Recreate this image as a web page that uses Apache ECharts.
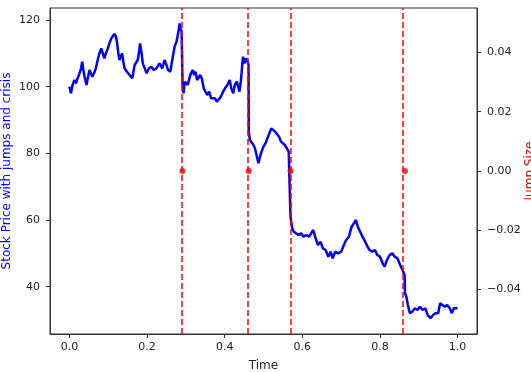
<!DOCTYPE html>
<html>
<head>
<meta charset="utf-8">
<script src="https://cdn.jsdelivr.net/npm/echarts@6.0.0/dist/echarts.min.js"></script>
<style>
html,body{margin:0;padding:0;background:#fff;}
#chart{width:531px;height:372px;}
</style>
</head>
<body>
<div id="chart"></div>
<script>
// Price path, split at each jump: [time, price]
const pathBeforeJump1 = [[0.000,100],[0.001,99.5],[0.004,98],[0.008,100.5],[0.013,102],[0.017,101],[0.021,102.5],[0.026,104],[0.030,105.5],[0.033,107.5],[0.036,105],[0.039,103],[0.044,100.5],[0.048,103],[0.052,105],[0.055,104],[0.059,103],[0.065,104.5],[0.068,105.5],[0.071,107],[0.076,109.5],[0.082,111.5],[0.086,110],[0.090,108.5],[0.094,110],[0.099,111.5],[0.103,113],[0.108,114.5],[0.112,115],[0.116,115.8],[0.120,115],[0.123,113],[0.126,110],[0.129,108],[0.132,109],[0.136,110],[0.139,107.5],[0.142,105.5],[0.148,104.5],[0.155,103.5],[0.162,102.5],[0.165,104.5],[0.168,106.5],[0.172,107],[0.176,108],[0.179,110],[0.182,113],[0.186,110],[0.189,107],[0.194,105.5],[0.199,104],[0.205,105.5],[0.211,106],[0.217,105],[0.224,105.5],[0.228,106],[0.232,107],[0.239,105.5],[0.245,108],[0.250,106.5],[0.254,105],[0.260,104.5],[0.265,108],[0.271,112],[0.276,113.5],[0.280,116],[0.284,119],[0.286,117.5],[0.289,116.5],[0.291,116]];
const pathBeforeJump2 = [[0.2915,100.5],[0.294,98],[0.297,101.5],[0.301,102],[0.305,100.5],[0.309,102.5],[0.313,104],[0.318,105],[0.321,103.5],[0.325,104.5],[0.329,102],[0.333,101.5],[0.337,103.5],[0.341,102.5],[0.346,99.5],[0.351,99.5],[0.355,97.5],[0.360,98.5],[0.365,96.5],[0.370,97],[0.375,96.5],[0.380,95.5],[0.385,96],[0.390,97],[0.396,98.5],[0.401,99.5],[0.407,100.5],[0.413,102],[0.417,99.5],[0.422,98],[0.426,100.5],[0.431,101.5],[0.435,100],[0.438,98.5],[0.442,102],[0.447,109],[0.451,107],[0.455,108.5],[0.459,107.5],[0.4615,106.5]];
const pathBeforeJump3 = [[0.462,86.5],[0.465,84],[0.470,83.5],[0.474,82.5],[0.478,81.5],[0.483,79],[0.487,77],[0.491,79],[0.495,80.5],[0.500,82],[0.505,83],[0.510,84.5],[0.515,86],[0.520,87.5],[0.525,88],[0.530,86.5],[0.535,87],[0.540,85],[0.545,83.5],[0.550,84],[0.555,82.5],[0.560,83],[0.565,80.5],[0.569,80]];
const pathBeforeJump4 = [[0.5695,61],[0.574,57.5],[0.578,56.5],[0.583,56],[0.590,55.5],[0.597,56],[0.603,55],[0.610,55.5],[0.617,55],[0.623,56],[0.628,57],[0.633,55],[0.640,52.5],[0.647,53.5],[0.653,51.5],[0.660,51],[0.667,49],[0.673,50.5],[0.678,48.5],[0.685,50.5],[0.692,50],[0.700,50.5],[0.707,52.5],[0.713,54],[0.720,55],[0.727,58],[0.733,59],[0.738,60],[0.743,58],[0.748,57.5],[0.755,55],[0.762,53.5],[0.768,52],[0.773,51],[0.780,50.5],[0.787,51],[0.793,49.5],[0.800,49],[0.807,47],[0.812,46],[0.818,48],[0.825,49.5],[0.832,50],[0.838,49],[0.845,48.5],[0.852,46.5],[0.858,45],[0.8635,43.5]];
const pathAfterLastJump = [[0.8645,38],[0.868,37],[0.872,34.5],[0.877,32],[0.883,32.5],[0.890,33.5],[0.897,33],[0.903,34],[0.910,33],[0.917,33.5],[0.923,31.5],[0.930,30.5],[0.937,31.5],[0.943,32],[0.950,32],[0.955,35],[0.960,34.5],[0.967,34],[0.973,34.5],[0.980,33.5],[0.985,32],[0.990,33.5],[0.995,33],[1.000,33.5]];

const jumpTimes = [0.291, 0.462, 0.5695, 0.8645];
const jumpSizes = [0, 0, 0, 0];

const timeTicks = [0, 0.2, 0.4, 0.6, 0.8, 1.0];
const priceTicks = [40, 60, 80, 100, 120];
const jumpTicks = [-0.04, -0.02, 0, 0.02, 0.04];

const pricePath = [].concat(pathBeforeJump1, pathBeforeJump2, pathBeforeJump3, pathBeforeJump4, pathAfterLastJump);
const jumpPoints = jumpTimes.map((t, i) => [t, jumpSizes[i]]);

const chart = echarts.init(document.getElementById('chart'), null, {renderer: 'canvas'});
const tickColor = '#222';
const font = 'DejaVu Sans';
chart.setOption({
  animation: false,
  grid: {left: 50, right: 54, top: 8, bottom: 38, show: true, borderColor: '#333', borderWidth: 1, backgroundColor: 'transparent', containLabel: false, outerBoundsMode: 'none'},
  xAxis: {
    type: 'value', min: -0.05, max: 1.05,
    name: 'Time', nameLocation: 'middle', nameGap: 26,
    nameTextStyle: {fontFamily: font, fontSize: 12, color: tickColor},
    axisLine: {show: true, onZero: false, lineStyle: {color: '#333', width: 1}},
    axisTick: {show: true, length: 4, customValues: timeTicks, lineStyle: {color: '#333'}},
    axisLabel: {customValues: timeTicks, formatter: v => v.toFixed(1), fontFamily: font, fontSize: 11, color: tickColor, margin: 8},
    splitLine: {show: false}
  },
  yAxis: [{
    type: 'value', min: 25.8, max: 123.6, position: 'left',
    name: 'Stock Price with jumps and crisis', nameLocation: 'middle', nameGap: 37, nameRotate: 90,
    nameMoveOverlap: false,
    nameTextStyle: {fontFamily: font, fontSize: 12, color: '#0000ff'},
    axisLine: {show: true, onZero: false, lineStyle: {color: '#333', width: 1}},
    axisTick: {show: true, length: 4, customValues: priceTicks, lineStyle: {color: '#333'}},
    axisLabel: {customValues: priceTicks, fontFamily: font, fontSize: 11, color: tickColor, margin: 10},
    splitLine: {show: false}
  }, {
    type: 'value', min: -0.055, max: 0.055, position: 'right',
    name: 'Jump Size', nameLocation: 'middle', nameGap: 47, nameRotate: 90,
    nameMoveOverlap: false,
    nameTextStyle: {fontFamily: font, fontSize: 12, color: '#ff0000'},
    axisLine: {show: true, onZero: false, lineStyle: {color: '#333', width: 1}},
    axisTick: {show: true, length: 4, customValues: jumpTicks, lineStyle: {color: '#333'}},
    axisLabel: {customValues: jumpTicks, formatter: v => (v < 0 ? '\u2212' : '') + Math.abs(v).toFixed(2), fontFamily: font, fontSize: 11, color: tickColor, margin: 10},
    splitLine: {show: false}
  }],
  series: [{
    type: 'line', data: pricePath, yAxisIndex: 0,
    showSymbol: false, symbol: 'none',
    lineStyle: {color: '#0000ff', width: 2.5},
    z: 2
  }, {
    type: 'scatter', data: jumpPoints, yAxisIndex: 1,
    symbol: 'circle', symbolSize: 6,
    itemStyle: {color: '#ff0000'},
    z: 4,
    markLine: {
      silent: true, symbol: 'none', label: {show: false},
      lineStyle: {color: '#ff0000', type: [6, 3], width: 1.5},
      data: jumpTimes.map(t => ({xAxis: t}))
    }
  }]
});
</script>
</body>
</html>
